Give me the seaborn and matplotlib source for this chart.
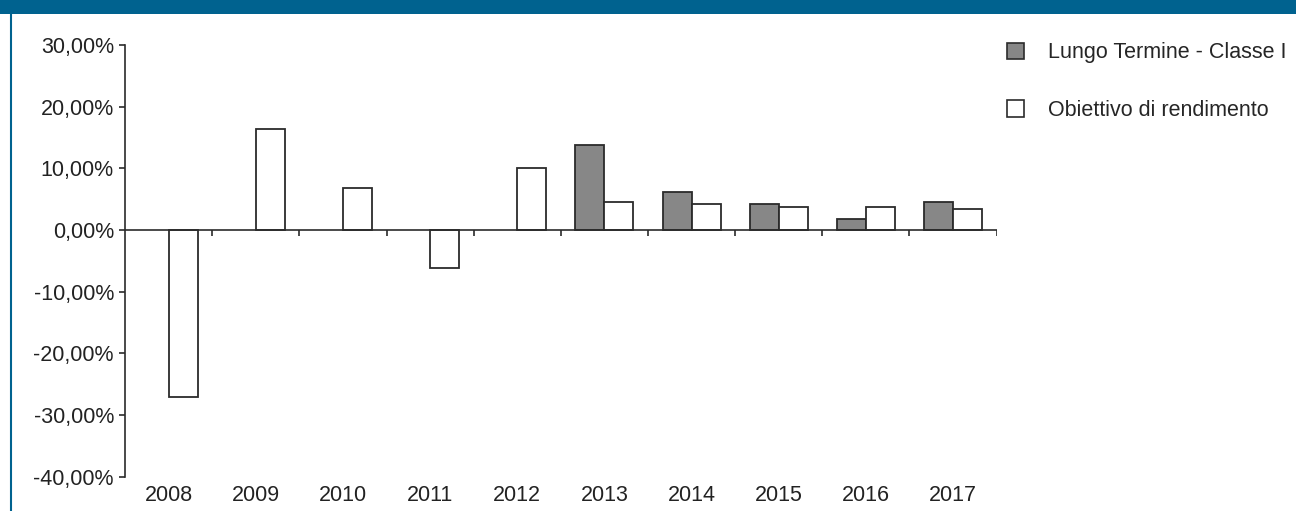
import numpy as np
import pandas as pd
import matplotlib
matplotlib.use('Agg')
import matplotlib.pyplot as plt
import seaborn as sns
from matplotlib.patches import Rectangle
from matplotlib.lines import Line2D

# dati
anni = ['2008', '2009', '2010', '2011', '2012', '2013', '2014', '2015', '2016', '2017']
fondo = [np.nan, np.nan, np.nan, np.nan, np.nan, 13.8, 6.1, 4.2, 1.8, 4.5]
obiettivo = [-27.1, 16.4, 6.8, -6.2, 10.0, 4.5, 4.2, 3.8, 3.7, 3.4]
serie = ['Lungo Termine - Classe I', 'Obiettivo di rendimento']
y_ticks = [30, 20, 10, 0, -10, -20, -30, -40]

df = pd.DataFrame({
    'anno': anni * 2,
    'valore': fondo + obiettivo,
    'serie': [serie[0]] * len(anni) + [serie[1]] * len(anni),
})

sns.set_style('white')
plt.rcParams['font.family'] = ['Liberation Sans', 'DejaVu Sans']

fig = plt.figure(figsize=(12.96, 5.11), dpi=100)
ax = fig.add_axes([0.0965, 0.067, 0.6725, 0.845])

sns.barplot(data=df, x='anno', y='valore', hue='serie', order=anni, hue_order=serie,
            palette=['#878787', '#ffffff'], width=0.667, edgecolor='#2b2b2b',
            linewidth=1.3, saturation=1, errorbar=None, legend=False, ax=ax)

ax.set_xlim(-0.5, len(anni) - 0.5)
ax.set_ylim(-40, 30)
ax.set_yticks(y_ticks)
ax.set_yticklabels([f'{v:.2f}%'.replace('.', ',') for v in y_ticks])
ax.set_xlabel('')
ax.set_ylabel('')

for s in ['top', 'right', 'bottom']:
    ax.spines[s].set_visible(False)
ax.spines['left'].set_color('#2b2b2b')
ax.spines['left'].set_linewidth(1.2)

ax.tick_params(axis='y', left=True, length=4, width=1.2, color='#2b2b2b',
               labelsize=15.5, labelcolor='#222222', pad=4)
ax.tick_params(axis='x', bottom=False, length=0, labelsize=15.5, labelcolor='#222222', pad=6)

# linea dello zero con tacche tra le categorie
ax.axhline(0, color='#2b2b2b', lw=1.2, zorder=3)
ax.vlines(np.arange(len(anni)) + 0.5, -0.9, 0, color='#2b2b2b', lw=1.2, zorder=3)

# legenda
handles = [Rectangle((0, 0), 1, 1, facecolor='#878787', edgecolor='#2b2b2b', lw=1.2),
           Rectangle((0, 0), 1, 1, facecolor='#ffffff', edgecolor='#2b2b2b', lw=1.2)]
fig.legend(handles, serie, loc='upper left', bbox_to_anchor=(0.777, 0.917),
           frameon=False, fontsize=15.5, handlelength=0.8, handleheight=0.8,
           handletextpad=1.1, labelspacing=1.7, borderpad=0, borderaxespad=0)

# banda blu in alto e bordo sinistro
fig.patches.append(Rectangle((0, 1 - 14 / 511), 1, 14 / 511, transform=fig.transFigure,
                             facecolor='#00628f', edgecolor='none'))
fig.lines.append(Line2D([11 / 1296, 11 / 1296], [0, 1], transform=fig.transFigure,
                        color='#00628f', lw=1.5))

fig.savefig('out.png', dpi=100)
